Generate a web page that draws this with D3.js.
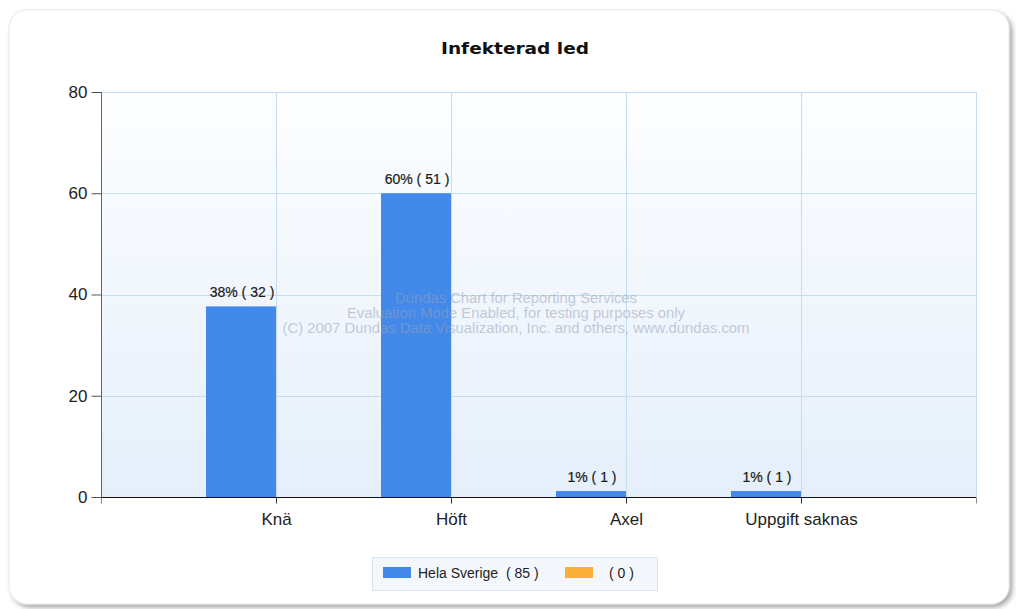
<!DOCTYPE html>
<html>
<head>
<meta charset="utf-8">
<script src="https://cdn.jsdelivr.net/npm/d3@7"></script>
<style>
  html, body { margin: 0; padding: 0; background: #ffffff; }
  svg { display: block; }
</style>
</head>
<body>
<svg id="chart" width="1016" height="609"></svg>
<script>
// Chart data
const title = "Infekterad led";
const categories = ["Knä", "Höft", "Axel", "Uppgift saknas"];
const seriesNames = ["Hela Sverige", ""];
const countsHelaSverige = [32, 51, 1, 1];
const countsOther = [0, 0, 0, 0];
const yTicks = [0, 20, 40, 60, 80];
const watermarkLines = [
  "Dundas Chart for Reporting Services",
  "Evaluation Mode Enabled, for testing purposes only",
  "(C) 2007 Dundas Data Visualization, Inc. and others, www.dundas.com"
];
const watermarkWidths = [242, 338, 467];

const seriesColors = ["#4289ea", "#fbb03b"];
const font = "Arial, 'Liberation Sans', sans-serif";

const svg = d3.select("#chart");
const plot = { left: 101, right: 976, top: 92, bottom: 497 };

const defs = svg.append("defs");
const shadow = defs.append("filter").attr("id", "frameShadow")
  .attr("x", "-5%").attr("y", "-5%").attr("width", "110%").attr("height", "110%");
shadow.append("feGaussianBlur").attr("in", "SourceAlpha").attr("stdDeviation", 2.5);
shadow.append("feOffset").attr("dx", 3).attr("dy", 3).attr("result", "b");
shadow.append("feComponentTransfer").append("feFuncA").attr("type", "linear").attr("slope", 0.35);
const merge = shadow.append("feMerge");
merge.append("feMergeNode");
merge.append("feMergeNode").attr("in", "SourceGraphic");

const bgGrad = defs.append("linearGradient").attr("id", "plotBg")
  .attr("x1", 0).attr("y1", 0).attr("x2", 0).attr("y2", 1);
bgGrad.append("stop").attr("offset", "0%").attr("stop-color", "#fdfeff");
bgGrad.append("stop").attr("offset", "100%").attr("stop-color", "#e5effa");

// Outer rounded frame
svg.append("rect")
  .attr("x", 9).attr("y", 10).attr("width", 1000).attr("height", 594)
  .attr("rx", 18).attr("ry", 18)
  .attr("fill", "#ffffff").attr("stroke", "#e6e6e6").attr("stroke-width", 1)
  .attr("filter", "url(#frameShadow)");

// Title
svg.append("text")
  .attr("x", 515).attr("y", 54)
  .attr("text-anchor", "middle")
  .attr("font-family", "'DejaVu Sans', Verdana, sans-serif")
  .attr("font-weight", "bold").attr("font-size", 16)
  .attr("textLength", 148).attr("lengthAdjust", "spacingAndGlyphs")
  .attr("fill", "#111")
  .text(title);

// Scales
const totals = [d3.sum(countsHelaSverige), d3.sum(countsOther)];
const pctHela = countsHelaSverige.map(v => v / totals[0] * 100);
const pctOther = countsOther.map(v => totals[1] ? v / totals[1] * 100 : 0);

const x = d3.scalePoint().domain(categories).range([plot.left, plot.right]).padding(1);
const step = x.step();
const barW = step * 0.4;
const y = d3.scaleLinear().domain([0, 80]).range([plot.bottom, plot.top]);

// Plot background
svg.append("rect")
  .attr("x", plot.left).attr("y", plot.top)
  .attr("width", plot.right - plot.left).attr("height", plot.bottom - plot.top)
  .attr("fill", "url(#plotBg)");

// Grid lines
const grid = svg.append("g").attr("stroke", "#c6dcf1").attr("stroke-width", 1);
grid.selectAll("line.h").data(yTicks.filter(t => t > 0)).join("line")
  .attr("x1", plot.left).attr("x2", plot.right)
  .attr("y1", d => Math.round(y(d)) + 0.5).attr("y2", d => Math.round(y(d)) + 0.5);
grid.selectAll("line.v").data(categories).join("line")
  .attr("x1", d => Math.round(x(d)) + 0.5).attr("x2", d => Math.round(x(d)) + 0.5)
  .attr("y1", plot.top).attr("y2", plot.bottom);
grid.append("line")
  .attr("x1", plot.right + 0.5).attr("x2", plot.right + 0.5)
  .attr("y1", plot.top).attr("y2", plot.bottom);

// Bars
const barsG = svg.append("g");
barsG.selectAll("rect.s0").data(categories).join("rect")
  .attr("x", d => x(d) - barW)
  .attr("y", (d, i) => y(pctHela[i]))
  .attr("width", barW)
  .attr("height", (d, i) => y(0) - y(pctHela[i]))
  .attr("fill", seriesColors[0]);
barsG.selectAll("rect.s1").data(categories).join("rect")
  .attr("x", d => x(d))
  .attr("y", (d, i) => y(pctOther[i]))
  .attr("width", barW)
  .attr("height", (d, i) => y(0) - y(pctOther[i]))
  .attr("fill", seriesColors[1]);

// Value labels
svg.append("g").selectAll("text").data(categories).join("text")
  .attr("x", d => x(d) - barW / 2 + 1)
  .attr("y", (d, i) => y(pctHela[i]) - 9)
  .attr("text-anchor", "middle")
  .attr("font-family", font).attr("font-size", 14)
  .attr("fill", "#1a1a1a")
  .attr("stroke", "#1a1a1a").attr("stroke-width", 0.2)
  .attr("xml:space", "preserve").style("white-space", "pre")
  .text((d, i) => `${Math.round(pctHela[i])}% ( ${countsHelaSverige[i]} )`);

// Watermark
svg.append("g").selectAll("text").data(watermarkLines).join("text")
  .attr("x", 516)
  .attr("y", (d, i) => 303 + i * 15)
  .attr("text-anchor", "middle")
  .attr("font-family", font).attr("font-size", 14)
  .attr("textLength", (d, i) => watermarkWidths[i]).attr("lengthAdjust", "spacingAndGlyphs")
  .attr("fill", "rgb(150,160,185)").attr("fill-opacity", 0.55)
  .text(d => d);

// Y axis
const yAxis = d3.axisLeft(y).tickValues(yTicks).tickSize(10).tickPadding(4);
const yG = svg.append("g").attr("transform", `translate(${plot.left + 0.5},0)`).call(yAxis);
yG.selectAll(".domain").attr("stroke", "#666").attr("d", `M0,${plot.top}V${plot.bottom}`);
yG.selectAll(".tick line").attr("stroke", "#555");
yG.selectAll(".tick text")
  .attr("font-family", font).attr("font-size", 17).attr("fill", "#222");

// X axis
const xAxis = d3.axisBottom(x).tickSize(6).tickPadding(9);
const xG = svg.append("g").attr("transform", `translate(0,${plot.bottom + 0.5})`).call(xAxis);
xG.select(".domain").attr("stroke", "#111").attr("d", `M${plot.left},0H${plot.right}`);
xG.selectAll(".tick line").attr("stroke", "#333");
xG.selectAll(".tick text")
  .attr("font-family", font).attr("font-size", 17).attr("fill", "#222");
[plot.left, plot.right].forEach(px => {
  xG.append("line").attr("x1", px + 0.5).attr("x2", px + 0.5)
    .attr("y1", 0).attr("y2", 6).attr("stroke", "#888");
});

// Legend
const legend = svg.append("g");
legend.append("rect")
  .attr("x", 372.5).attr("y", 557.5).attr("width", 285).attr("height", 33)
  .attr("fill", "#f4f8fd").attr("stroke", "#dbe5f0");
const legendItems = [
  { color: seriesColors[0], label: `${seriesNames[0]}  ( ${totals[0]} )`, sx: 383, tx: 418 },
  { color: seriesColors[1], label: `( ${totals[1]} )`, sx: 565, tx: 609 }
];
legendItems.forEach(it => {
  legend.append("rect").attr("x", it.sx).attr("y", 567).attr("width", 28).attr("height", 11)
    .attr("fill", it.color);
  legend.append("text").attr("x", it.tx).attr("y", 578)
    .attr("font-family", font).attr("font-size", 14).attr("fill", "#222")
    .attr("xml:space", "preserve").style("white-space", "pre")
    .text(it.label);
});
</script>
</body>
</html>
